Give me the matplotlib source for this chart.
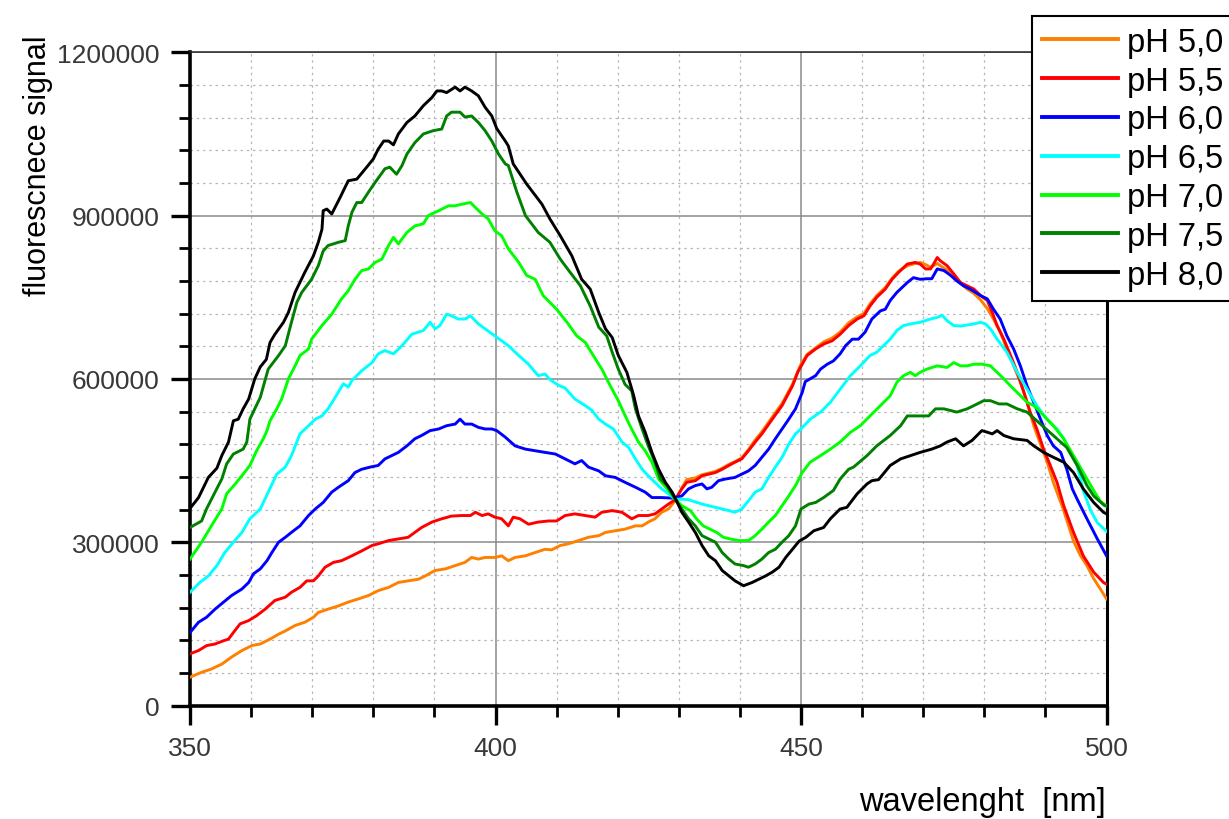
import numpy as np
import matplotlib
matplotlib.use("Agg")
import matplotlib.pyplot as plt
from matplotlib.ticker import MultipleLocator, FuncFormatter

plt.rcParams["font.family"] = ["Liberation Sans", "DejaVu Sans"]

# Emission spectra: [wavelength nm, signal in thousands of counts]
ph50 = [[350, 52], [351.9, 61], [353.5, 67], [355.2, 76], [356.8, 89], [358.5, 101], [360.1, 110], [361.5, 113],
        [363.1, 122], [364.5, 131], [365.6, 137], [367.2, 147], [368.8, 153], [370.2, 162], [371.0, 171],
        [372.6, 177], [374.3, 183], [375.9, 190], [377.6, 196], [379.2, 202], [380.8, 211], [382.5, 217],
        [384.1, 226], [385.7, 229], [387.4, 232], [388.5, 238], [390.1, 248], [391.8, 251], [393.4, 257],
        [395.0, 263], [396.1, 272], [397.2, 269], [398.3, 272], [400.0, 272], [401.0, 275], [402.1, 266],
        [403.2, 272], [404.9, 275], [406.5, 281], [408.1, 287], [409.2, 286], [410.6, 294], [411.9, 297],
        [413.6, 303], [415.2, 309], [416.9, 312], [418.0, 318], [419.6, 321], [421.2, 324], [422.9, 330],
        [424.0, 330], [425.0, 337], [426.1, 343], [427.2, 355], [428.3, 361], [429.4, 376], [430.5, 400],
        [431.3, 415], [432.7, 418], [433.8, 424], [434.9, 427], [436.0, 430], [437.1, 436], [438.2, 443],
        [439.2, 448], [440.3, 455], [441.4, 470], [442.5, 488], [443.6, 503], [445.3, 530], [446.9, 555],
        [448.6, 590], [449.9, 625], [451.0, 645], [452.4, 657], [453.7, 668], [455.1, 675], [456.4, 686],
        [457.8, 703], [459.2, 714], [460.3, 720], [461.3, 738], [462.4, 753], [463.8, 768], [464.9, 785],
        [466.0, 798], [467.4, 808], [468.7, 812], [469.5, 814], [470.4, 810], [471.2, 805], [471.7, 808],
        [472.3, 812], [472.8, 808], [473.9, 800], [475.0, 790], [476.1, 776], [477.2, 765], [478.3, 757],
        [479.4, 745], [480.5, 729], [481.5, 710], [482.6, 686], [483.7, 655], [484.8, 624], [485.9, 594],
        [487.0, 557], [488.1, 514], [489.2, 480], [490.3, 447], [491.3, 410], [493.0, 358], [494.6, 302],
        [495.7, 276], [496.8, 257], [497.9, 233], [499.0, 214], [500, 196]]

ph55 = [[350, 95], [351.4, 101], [352.7, 110], [354.1, 113], [355.5, 119], [356.3, 122], [357.1, 134], [358.2, 150],
        [359.6, 156], [360.9, 165], [362.3, 177], [363.9, 193], [365.6, 199], [366.6, 208], [368.0, 217],
        [369.1, 229], [370.2, 229], [371.0, 238], [372.1, 254], [373.5, 263], [374.8, 266], [376.5, 275],
        [378.1, 284], [379.8, 294], [380.8, 297], [382.5, 303], [384.1, 306], [385.7, 309], [386.8, 318],
        [387.9, 327], [389.6, 337], [391.2, 343], [392.8, 348], [394.5, 349], [395.9, 349], [396.7, 355],
        [397.8, 349], [398.8, 352], [399.9, 346], [401.0, 343], [402.1, 330], [402.9, 346], [404.0, 343],
        [405.4, 333], [407.0, 337], [408.7, 339], [410.0, 339], [411.4, 349], [413.0, 352], [414.7, 349],
        [416.3, 346], [417.4, 355], [419.1, 358], [420.7, 355], [422.3, 343], [423.4, 349], [425.0, 349],
        [426.1, 352], [427.2, 361], [428.3, 370], [429.4, 378], [430.5, 398], [431.3, 410], [432.7, 413],
        [433.8, 422], [434.9, 425], [436.0, 428], [437.1, 434], [438.2, 441], [439.2, 447], [440.3, 453],
        [441.4, 468], [442.5, 484], [443.6, 499], [445.3, 526], [446.9, 551], [448.6, 587], [449.5, 613],
        [451.0, 643], [452.4, 655], [453.7, 664], [455.1, 670], [456.4, 682], [457.8, 698], [459.2, 710],
        [460.3, 716], [461.3, 734], [462.4, 750], [463.8, 765], [464.9, 783], [466.0, 796], [467.4, 811],
        [468.7, 814], [469.5, 811], [470.4, 802], [471.2, 802], [471.7, 811], [472.3, 823], [472.8, 817],
        [473.9, 808], [475.0, 793], [476.1, 777], [477.2, 771], [478.3, 765], [479.4, 753], [480.5, 744],
        [481.3, 722], [482.1, 698], [483.2, 673], [484.3, 643], [485.4, 612], [486.5, 575], [487.5, 539],
        [488.6, 508], [489.7, 471], [490.8, 441], [491.9, 410], [493.0, 367], [494.6, 318], [496.2, 275],
        [497.9, 245], [499.5, 226], [500, 223]]

ph60 = [[350, 134], [351.4, 153], [352.7, 162], [354.1, 177], [355.5, 190], [356.8, 202], [358.5, 214], [359.6, 226],
        [360.4, 242], [361.5, 251], [362.6, 266], [363.4, 281], [364.5, 300], [365.6, 309], [366.6, 318],
        [368.0, 330], [369.4, 349], [370.5, 361], [371.8, 373], [373.2, 392], [374.3, 401], [375.9, 413],
        [377.0, 428], [378.1, 434], [379.5, 438], [380.8, 441], [381.9, 453], [383.0, 459], [384.1, 465],
        [385.5, 477], [386.8, 490], [387.9, 496], [389.3, 505], [390.7, 508], [392.0, 514], [393.4, 517],
        [394.2, 526], [395.0, 517], [396.1, 517], [397.2, 511], [398.3, 508], [399.4, 508], [400.2, 505],
        [401.6, 493], [403.2, 477], [404.9, 471], [406.5, 468], [408.1, 465], [409.8, 462], [411.4, 453],
        [413.0, 444], [414.1, 450], [415.2, 438], [416.9, 431], [418.0, 422], [419.6, 419], [421.2, 410],
        [422.9, 401], [424.5, 392], [425.6, 382], [427.2, 382], [428.9, 381], [430.5, 385], [431.6, 398],
        [432.7, 404], [433.8, 407], [434.6, 398], [435.4, 401], [436.5, 413], [437.6, 416], [439.2, 419],
        [440.3, 425], [441.4, 431], [442.5, 441], [443.6, 456], [444.7, 471], [445.8, 490], [446.9, 508],
        [448.0, 526], [449.1, 545], [450.2, 575], [450.7, 595], [452.4, 606], [453.2, 618], [454.3, 627],
        [455.3, 633], [456.4, 646], [457.3, 661], [458.4, 673], [459.4, 673], [460.5, 686], [461.6, 710],
        [463.0, 725], [463.8, 728], [464.6, 744], [465.7, 759], [467.4, 777], [468.4, 786], [469.5, 783],
        [470.6, 784], [471.4, 784], [472.3, 802], [473.4, 799], [474.5, 790], [475.5, 780], [476.6, 771],
        [477.7, 765], [479.4, 753], [480.5, 747], [481.5, 728], [482.6, 710], [483.7, 679], [484.8, 655],
        [485.9, 624], [487.0, 587], [488.1, 557], [489.2, 526], [490.3, 496], [491.3, 477], [492.5, 465],
        [493.5, 434], [494.4, 398], [495.2, 379], [496.8, 343], [498.5, 306], [500, 275]]

ph65 = [[350, 208], [351.6, 226], [353.0, 238], [354.4, 257], [355.7, 281], [357.1, 300], [358.5, 318], [359.8, 343],
        [361.5, 361], [362.8, 392], [364.2, 425], [365.6, 438], [366.6, 459], [368.0, 499], [369.4, 514],
        [370.5, 526], [371.6, 532], [372.6, 545], [373.6, 563], [375.1, 591], [375.9, 585], [376.5, 597],
        [378.1, 615], [379.8, 630], [380.8, 646], [381.9, 652], [383.3, 646], [384.7, 661], [386.3, 682],
        [388.2, 689], [389.3, 704], [390.1, 692], [390.9, 698], [392.0, 719], [392.8, 716], [393.9, 710],
        [395.0, 710], [395.9, 716], [397.2, 701], [398.3, 692], [399.9, 679], [402.1, 661], [403.8, 643],
        [405.4, 627], [407.0, 606], [408.1, 609], [408.9, 599], [410.2, 589], [411.4, 583], [413.0, 563],
        [414.7, 551], [415.8, 542], [416.9, 526], [418.0, 517], [419.3, 508], [420.7, 484], [421.8, 474],
        [422.9, 453], [424.0, 434], [425.0, 422], [426.1, 410], [427.2, 398], [428.3, 389], [429.4, 379],
        [430.5, 379], [431.6, 378], [432.7, 374], [433.8, 370], [434.9, 367], [436.0, 364], [437.1, 361],
        [438.2, 358], [439.2, 355], [440.3, 361], [441.4, 376], [442.5, 392], [443.6, 398], [444.7, 419],
        [445.8, 438], [446.9, 456], [448.0, 480], [449.1, 499], [450.0, 508], [451.5, 526], [453.2, 539],
        [454.8, 557], [456.4, 581], [458.1, 606], [459.7, 624], [461.3, 643], [462.4, 649], [463.5, 661],
        [464.6, 673], [465.7, 689], [466.8, 698], [467.9, 701], [469.5, 704], [471.2, 710], [472.3, 713],
        [473.1, 717], [473.9, 707], [475.0, 698], [476.1, 697], [477.2, 699], [478.3, 701], [479.4, 704],
        [480.2, 701], [481.0, 692], [482.1, 673], [483.7, 649], [485.4, 612], [487.0, 581], [488.6, 551],
        [490.2, 526], [491.9, 508], [493.0, 490], [494.1, 465], [495.2, 441], [496.2, 395], [497.4, 358],
        [498.5, 336], [500, 320]]

ph70 = [[350, 269], [351.9, 300], [353.5, 330], [355.2, 361], [356.0, 389], [357.4, 407], [358.7, 425], [359.8, 441],
        [360.9, 468], [362.0, 490], [362.6, 505], [363.1, 523], [364.2, 545], [365.0, 563], [366.1, 600],
        [367.2, 624], [368.0, 643], [369.4, 655], [369.9, 673], [371.6, 698], [373.2, 719], [374.8, 747],
        [375.9, 762], [377.0, 783], [378.1, 799], [379.2, 802], [380.3, 814], [381.4, 820], [382.5, 845],
        [383.3, 860], [384.1, 848], [385.5, 869], [386.8, 881], [388.2, 885], [389.0, 900], [390.7, 909],
        [392.3, 918], [393.4, 918], [394.5, 921], [395.9, 924], [396.7, 915], [397.8, 903], [398.8, 894],
        [399.9, 872], [401.0, 863], [402.1, 839], [403.8, 814], [405.1, 790], [406.5, 783], [407.8, 753],
        [410.0, 728], [411.7, 704], [413.3, 679], [414.7, 667], [416.0, 643], [417.4, 618], [418.8, 587],
        [420.1, 560], [420.7, 545], [422.0, 514], [423.4, 484], [424.5, 468], [425.6, 447], [426.7, 416],
        [428.1, 398], [429.4, 379], [430.5, 367], [431.9, 358], [432.9, 343], [434.0, 330], [435.1, 324],
        [436.2, 318], [437.3, 309], [438.4, 306], [439.8, 303], [441.4, 303], [442.5, 312], [443.6, 324],
        [444.7, 337], [445.8, 349], [446.9, 367], [448.0, 385], [449.1, 404], [450.2, 428], [451.5, 447],
        [453.2, 459], [454.8, 471], [456.4, 484], [458.1, 502], [459.7, 514], [461.3, 532], [463.0, 551],
        [464.6, 569], [465.7, 594], [466.8, 606], [467.9, 612], [468.7, 606], [469.5, 612], [470.6, 618],
        [472.3, 624], [473.9, 621], [475.0, 630], [476.1, 624], [477.2, 624], [478.3, 627], [479.6, 627],
        [481.0, 624], [482.1, 612], [483.2, 600], [484.3, 587], [485.4, 575], [487.0, 557], [488.1, 551],
        [489.2, 539], [491.3, 514], [493.0, 490], [494.6, 459], [496.2, 428], [497.9, 395], [499.0, 375],
        [500, 367]]

ph75 = [[350, 327], [351.9, 339], [352.7, 361], [354.1, 392], [355.2, 416], [356.0, 444], [357.1, 462], [358.7, 471],
        [359.3, 484], [359.8, 526], [360.6, 545], [361.5, 566], [362.8, 618], [364.5, 643], [365.6, 661],
        [366.6, 704], [367.5, 741], [368.3, 759], [369.9, 783], [371.0, 808], [371.8, 835], [372.6, 845],
        [374.3, 851], [375.4, 854], [375.9, 881], [376.5, 906], [377.3, 924], [378.1, 924], [379.2, 943],
        [380.3, 961], [381.9, 986], [382.7, 989], [383.8, 976], [384.7, 992], [385.5, 1013], [386.8, 1034],
        [388.2, 1050], [389.8, 1056], [391.2, 1059], [392.0, 1083], [392.8, 1090], [394.2, 1090],
        [395.0, 1081], [396.1, 1083], [397.2, 1071], [398.3, 1056], [399.4, 1037], [400.5, 1013],
        [401.6, 995], [402.1, 992], [403.5, 943], [404.9, 900], [407.0, 869], [408.9, 851], [410.6, 820],
        [412.2, 796], [413.9, 771], [415.5, 734], [416.9, 695], [418.2, 679], [419.1, 649], [420.1, 618],
        [421.2, 590], [422.3, 578], [422.9, 545], [424.0, 508], [425.0, 477], [426.1, 447], [427.0, 416],
        [428.1, 404], [429.4, 379], [430.5, 361], [431.6, 343], [432.7, 330], [433.8, 312], [434.9, 306],
        [436.0, 300], [437.1, 281], [438.2, 269], [439.2, 260], [440.6, 257], [441.4, 254], [442.5, 260],
        [443.6, 269], [444.7, 281], [445.8, 287], [446.9, 300], [448.0, 312], [449.1, 330], [450.0, 361],
        [451.3, 370], [452.4, 373], [453.7, 382], [455.3, 395], [456.4, 416], [457.8, 434], [458.6, 438],
        [460.8, 459], [462.4, 477], [464.6, 496], [466.3, 514], [467.4, 532], [469.5, 532], [470.9, 532],
        [472.0, 545], [473.4, 545], [475.5, 539], [477.2, 545], [478.3, 551], [479.9, 560], [481.0, 560],
        [482.4, 554], [483.7, 554], [485.4, 545], [487.0, 539], [489.2, 517], [491.3, 496], [493.5, 474],
        [495.2, 441], [496.8, 404], [497.9, 385], [499.6, 368], [500, 366]]

ph80 = [[350, 362], [351.4, 382], [353.0, 419], [354.4, 436], [355.2, 459], [356.3, 484], [357.1, 523], [357.9, 526],
        [358.7, 545], [359.6, 563], [360.6, 600], [361.5, 622], [362.5, 636], [363.1, 667], [363.9, 682],
        [365.3, 704], [366.1, 722], [367.2, 759], [368.8, 796], [370.2, 826], [371.0, 851], [371.6, 875],
        [371.8, 909], [372.4, 912], [373.2, 903], [374.6, 934], [375.9, 964], [377.3, 967], [378.7, 986],
        [380.0, 1004], [380.8, 1022], [381.7, 1037], [382.5, 1037], [383.3, 1030], [384.1, 1050],
        [385.5, 1071], [386.8, 1083], [388.2, 1102], [389.6, 1117], [390.4, 1129], [391.2, 1129],
        [392.0, 1126], [393.4, 1136], [394.2, 1129], [395.0, 1136], [396.1, 1129], [397.2, 1120],
        [398.3, 1099], [399.4, 1083], [400.2, 1060], [401.6, 1037], [402.1, 1028], [402.9, 995],
        [405.1, 958], [407.6, 921], [408.9, 894], [410.6, 863], [412.5, 826], [414.1, 783], [415.5, 765],
        [416.9, 722], [418.0, 692], [419.1, 676], [420.1, 643], [421.5, 612], [422.6, 570], [423.4, 532],
        [424.5, 502], [425.6, 465], [426.7, 434], [427.8, 410], [428.9, 392], [429.5, 379], [430.5, 355],
        [431.6, 337], [432.7, 318], [433.8, 294], [434.9, 275], [436.0, 266], [437.1, 248], [438.2, 238],
        [439.2, 229], [440.6, 220], [442.0, 226], [443.1, 232], [444.2, 238], [445.3, 245], [446.4, 254],
        [447.5, 272], [448.6, 287], [449.7, 302], [450.8, 309], [452.1, 321], [453.7, 327], [454.8, 343],
        [456.4, 361], [457.5, 364], [459.2, 389], [460.8, 407], [461.6, 413], [462.7, 415], [464.6, 441],
        [466.3, 453], [467.9, 459], [469.5, 465], [471.4, 471], [472.8, 477], [473.9, 484], [475.3, 490],
        [476.6, 477], [478.0, 487], [478.8, 496], [479.6, 505], [480.5, 502], [481.3, 499], [482.1, 505],
        [483.2, 496], [484.8, 490], [487.0, 487], [488.1, 477], [489.7, 465], [491.3, 456], [493.0, 447],
        [494.6, 428], [496.2, 398], [497.9, 373], [499.5, 355], [500, 352]]

series = [ph50, ph55, ph60, ph65, ph70, ph75, ph80]
labels = ["pH 5,0", "pH 5,5", "pH 6,0", "pH 6,5", "pH 7,0", "pH 7,5", "pH 8,0"]
colors = ["#ff8000", "#ff0000", "#0000ff", "#00ffff", "#00ff00", "#008000", "#000000"]

W, H = 1229, 820
fig = plt.figure(figsize=(W / 100, H / 100), dpi=100)
ax = fig.add_axes([190 / W, 1 - 706.5 / H, (1106.5 - 190) / W, (706.5 - 53.3) / H])

handles = []
for data, lab, col in zip(series, labels, colors):
    arr = np.array(data, dtype=float)
    (ln,) = ax.plot(arr[:, 0], arr[:, 1] * 1000, color=col, lw=2.1, label=lab, zorder=3)
    handles.append(ln)

ax.set_xlim(350, 500)
ax.set_ylim(0, 1200000)
ax.xaxis.set_major_locator(MultipleLocator(50))
ax.xaxis.set_minor_locator(MultipleLocator(10))
ax.yaxis.set_major_locator(MultipleLocator(300000))
ax.yaxis.set_minor_locator(MultipleLocator(60000))
ax.yaxis.set_major_formatter(FuncFormatter(lambda v, p: f"{int(round(v))}"))

ax.set_axisbelow(True)
ax.grid(which="major", color="#8a8a8a", lw=1.1, ls="-")
ax.grid(which="minor", color="#b8b8b8", lw=0.9, ls=(0, (2, 3)))

for side in ("left", "bottom"):
    ax.spines[side].set_linewidth(2.6)
    ax.spines[side].set_color("black")
ax.spines["right"].set_linewidth(2.2)
ax.spines["right"].set_color("black")
ax.spines["top"].set_linewidth(1.1)
ax.spines["top"].set_color("#222222")

ax.tick_params(which="major", direction="out", length=14, width=2.4, color="black",
               labelsize=19, labelcolor="#383838", pad=8)
ax.tick_params(which="minor", direction="out", length=8, width=2.0, color="black")
ax.tick_params(top=False, right=False, which="both")

fig.text(1106 / W, 1 - 803 / H, "wavelenght  [nm]", ha="right", va="center", fontsize=23.5, color="black")
fig.text(38 / W, 1 - 166 / H, "fluorescnece signal", rotation=90, ha="center", va="center",
         fontsize=22, color="black")

leg = fig.legend(handles, labels, loc="upper left", bbox_to_anchor=(1032 / W, 1 - 17.3 / H),
                 bbox_transform=fig.transFigure, fontsize=23.5, frameon=True, fancybox=False,
                 edgecolor="black", framealpha=1, borderaxespad=0, handlelength=2.3,
                 handletextpad=0.3, labelspacing=0.24, borderpad=0.32)
leg.get_frame().set_linewidth(1.5)
for lh in leg.get_lines():
    lh.set_linewidth(2.8)

fig.savefig("out.png", dpi=100)
